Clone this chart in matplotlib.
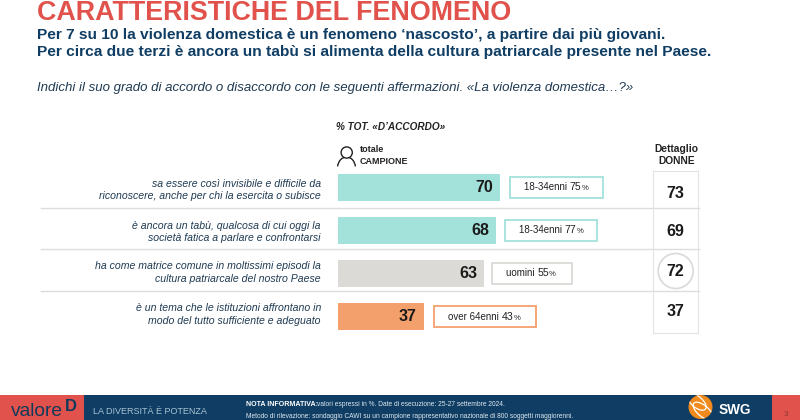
import matplotlib
matplotlib.use('Agg')
import matplotlib.pyplot as plt
from matplotlib.patches import Rectangle, Circle, Arc

plt.rcParams['font.family'] = ['Liberation Sans', 'DejaVu Sans']

# data
statements = ['sa essere così invisibile e difficile da\nriconoscere, anche per chi la esercita o subisce',
              'è ancora un tabù, qualcosa di cui oggi la\nsocietà fatica a parlare e confrontarsi',
              'ha come matrice comune in moltissimi episodi la\ncultura patriarcale del nostro Paese',
              'è un tema che le istituzioni affrontano in\nmodo del tutto sufficiente e adeguato']
totale = [70, 68, 63, 37]
donne = [73, 69, 72, 37]
gruppi = ['18-34enni', '18-34enni', 'uomini', 'over 64enni']
gruppi_val = [75, 77, 55, 43]

colori = ['#a3e1db', '#a3e1db', '#dbdad7', '#f4a06c']
blu = '#0f3d63'
rosso = '#e0524b'
testo = '#1f3a52'

fig = plt.figure(figsize=(8, 4.2), dpi=100)

# page in pixels, for all the text and decorations
pg = fig.add_axes([0, 0, 1, 1])
pg.set_xlim(0, 800)
pg.set_ylim(420, 0)
pg.axis('off')

pg.text(37, 20.5, 'CARATTERISTICHE DEL FENOMENO', fontsize=19.4, fontweight='bold', color=rosso, va='baseline')
pg.text(37, 35, 'Per 7 su 10 la violenza domestica è un fenomeno ‘nascosto’, a partire dai più giovani.',
        fontsize=11.15, fontweight='bold', color=blu, va='center')
pg.text(37, 52, 'Per circa due terzi è ancora un tabù si alimenta della cultura patriarcale presente nel Paese.',
        fontsize=11.15, fontweight='bold', color=blu, va='center')
pg.text(37, 88.5, 'Indichi il suo grado di accordo o disaccordo con le seguenti affermazioni. «La violenza domestica…?»',
        fontsize=9.56, style='italic', color=testo, va='center')

pg.text(336, 127, '% TOT. «D’ACCORDO»', fontsize=7.2, fontweight='bold', style='italic', color='#222222', va='center')
pg.text(360, 150, 'totale', fontsize=6.5, fontweight='bold', color='#222222', va='center')
pg.text(360, 161, 'CAMPIONE', fontsize=6.5, fontweight='bold', color='#222222', va='center')
pg.text(676.5, 149, 'Dettaglio', fontsize=7.4, fontweight='bold', color='#222222', va='center', ha='center')
pg.text(676.5, 161, 'DONNE', fontsize=7.4, fontweight='bold', color='#222222', va='center', ha='center')

# person icon
pg.add_patch(Arc((346.5, 168), 18, 22, theta1=190, theta2=350, ec='#222222', lw=1))
pg.add_patch(Circle((346.7, 152.5), 5.6, fc='white', ec='#222222', lw=1, zorder=3))

# separators and donne column
for y in [208, 249, 291]:
    pg.plot([41, 699], [y, y], color='#dcdcdc', lw=1, zorder=1)
for x in [653, 698]:
    pg.plot([x, x], [171, 333], color='#e4e4e4', lw=0.8, zorder=1)
pg.plot([653, 698], [171, 171], color='#e4e4e4', lw=0.8, zorder=1)
pg.plot([653, 698], [333, 333], color='#e4e4e4', lw=0.8, zorder=1)
pg.add_patch(Circle((675.7, 271), 17.5, fill=False, ec='#d9d9d9', lw=1.2))

# bars on their own axes
ax = fig.add_axes([338 / 800, 1 - 338 / 420, 232 / 800, 172 / 420])
ax.patch.set_alpha(0)
righe = range(len(totale))
ax.barh(righe, totale, height=0.63, color=colori, zorder=2)
ax.set_xlim(0, 100)
ax.set_ylim(3.5, -0.5)
ax.axis('off')

y_righe = [187.5, 230, 273.5, 316.5]
y_testi = [190, 232, 272.5, 314.5]
y_donne = [194, 232, 271, 311]
x_box = [510, 505, 492, 434]
w_box = [93, 92, 80, 102]
x_lab = [524, 519, 506, 448]
for i in righe:
    ax.annotate(str(totale[i]), (totale[i], i), xytext=(-5, 0), textcoords='offset points',
                ha='right', va='center', fontsize=11.5, fontweight='bold', color='#1a1a1a')
    pg.text(321, y_testi[i], statements[i], fontsize=7.6, style='italic', color=testo,
            ha='right', va='center', linespacing=1.33)
    pg.text(675.5, y_donne[i], str(donne[i]), fontsize=11.5, fontweight='bold', color='#1a1a1a',
            ha='center', va='center')

    # box next to the bar
    pg.add_patch(Rectangle((x_box[i], y_righe[i] - 10.5), w_box[i], 21, fc='white', ec=colori[i], lw=1.3, zorder=3))
    t1 = pg.text(x_lab[i], y_righe[i] + 3, gruppi[i] + ' ', fontsize=7, color='#222222', va='baseline', zorder=4)
    t2 = pg.annotate(str(gruppi_val[i]), xy=(1, 0), xycoords=t1, va='bottom', fontsize=7.6, color='#222222', zorder=4)
    pg.annotate('%', xy=(1, 0), xycoords=t2, va='bottom', fontsize=5.6, color='#222222', zorder=4)

# footer
pg.add_patch(Rectangle((0, 395), 800, 25, fc=blu, ec='none'))
pg.add_patch(Rectangle((0, 395), 84, 25, fc=rosso, ec='none'))
pg.add_patch(Rectangle((772, 395), 28, 25, fc=rosso, ec='none'))
pg.text(11, 416.5, 'valore', fontsize=13.8, color='#123a5c', va='baseline')
pg.text(65, 411, 'D', fontsize=12, fontweight='bold', color='#123a5c', va='baseline')
pg.text(93, 411, 'LA DIVERSITÀ È POTENZA', fontsize=6.5, color='#a9c3d6', va='center')
pg.text(246.5, 405, 'NOTA INFORMATIVA:', fontsize=5.1, fontweight='bold', color='white', va='center')
pg.text(317, 405, 'valori espressi in %. Date di esecuzione: 25-27 settembre 2024.', fontsize=4.8,
        color='#dfe8ef', va='center')
pg.text(246.5, 416, 'Metodo di rilevazione: sondaggio CAWI su un campione rappresentativo nazionale di 800 soggetti maggiorenni.',
        fontsize=4.8, color='#dfe8ef', va='center')
pg.text(786, 414, '3', fontsize=6, color='#8a3a38', ha='center', va='center')

# swg logo
globo = Circle((700.5, 407), 12, fc='#f08a1d', ec='none')
pg.add_patch(globo)
for c, w, h in [((697, 402), 22, 11), ((703, 411), 24, 11)]:
    a = Arc(c, w, h, angle=40, theta1=0, theta2=360, ec='white', lw=0.9)
    pg.add_patch(a)
    a.set_clip_path(globo)
pg.text(719, 410, 'SWG', fontsize=9.8, fontweight='bold', color='white', va='center')

fig.savefig('out.png', dpi=100)
